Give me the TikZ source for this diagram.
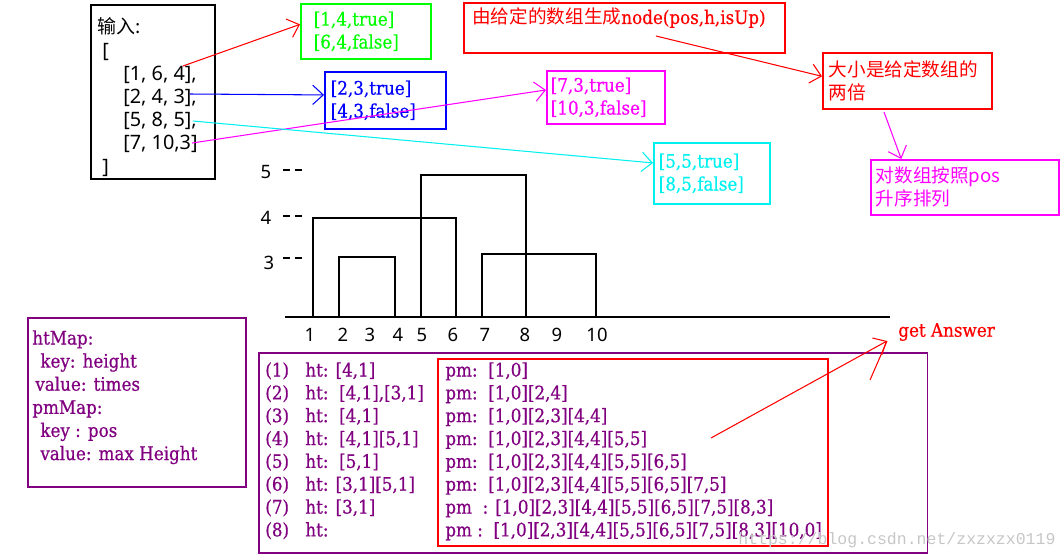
\documentclass[tikz,border=0pt]{standalone}
\usepackage{fontspec}
\setmainfont{DejaVu Serif Condensed}[FakeBold=0.6]
\newfontfamily\cjk{Noto Sans CJK SC}
\newfontfamily\sans{Noto Sans}
\newfontfamily\mono{Liberation Mono}
\usetikzlibrary{positioning,arrows.meta}

\definecolor{pgreen}{RGB}{0,255,0}
\definecolor{pblue}{RGB}{0,0,255}
\definecolor{pmag}{RGB}{255,0,255}
\definecolor{pcyan}{RGB}{0,240,240}
\definecolor{pred}{RGB}{255,0,0}
\definecolor{ppurple}{RGB}{128,0,128}

\newcommand\slabfont{\fontsize{10.6}{13}\selectfont}
\newcommand\hanfont{\cjk\fontsize{10.6}{13}\selectfont}
\newcommand\sansfont{\sans\fontsize{11.3}{13.2}\selectfont}

\tikzset{
  box/.style={draw=#1, text=#1, line width=0.9pt, anchor=north west, align=left, font=\slabfont},
  txt/.style={anchor=north west, align=left, inner sep=0pt, font=\slabfont},
  pen/.style={draw=#1, line width=0.6pt, -{Straight Barb[length=6pt,width=11pt]}},
  axis/.style={font=\sans\fontsize{10.5}{12}\selectfont, inner sep=0pt},
  tick/.style={line width=0.6pt, dash pattern=on 4pt off 2.8pt},
}

\begin{document}
\begin{tikzpicture}[x=0.02cm, y=-0.02cm]
\useasboundingbox (0,0) rectangle (1062,559);

% given buildings
\node[box=black, minimum width=2.48cm, minimum height=3.48cm] (inp) at (90,4) {};
\node[txt, font=\sansfont, below right=0.27cm and 0.14cm of inp.north west] (data)
  {{\cjk\fontsize{10.8}{13.2}\selectfont 输入:}\\ \hspace*{0.1cm}[\\ \hspace*{0.52cm}[1, 6, 4],\\ \hspace*{0.52cm}[2, 4, 3],\\
   \hspace*{0.52cm}[5, 8, 5],\\ \hspace*{0.52cm}[7, 10,3]\\ \hspace*{0.1cm}]};

% nodes (pos,h,isUp)
\node[box=pgreen, minimum width=2.6cm, minimum height=1.1cm, inner xsep=0.26cm, text width=2.08cm] (grn) at (300,3) {[1,4,true]\\{}[6,4,false]};
\node[box=pblue, minimum width=2.42cm, minimum height=1.14cm, inner xsep=0.12cm, text width=2.18cm] (blu) at (324,71) {[2,3,true]\\{}[4,3,false]};
\node[box=pmag, minimum width=2.36cm, minimum height=1.06cm, inner xsep=0.08cm, text width=2.2cm] (mag) at (546,70) {[7,3,true]\\{}[10,3,false]};
\node[box=pcyan, minimum width=2.32cm, minimum height=1.22cm, inner xsep=0.1cm, text width=2.12cm] (cyn) at (653,142) {[5,5,true]\\{}[8,5,false]};

% notes
\node[box=pred, minimum width=6.42cm, minimum height=1.0cm] (gen) at (463,2) {};
\node[txt, text=pred, anchor=west] (gentxt) at ([xshift=0.18cm, yshift=-0.32cm]gen.north west) {{\hanfont 由给定的数组生成}node(pos,h,isUp)};
\node[box=pred, font=\hanfont, minimum width=3.38cm, minimum height=1.12cm, inner xsep=0.12cm, text width=3.14cm] (big2x) at (822,52) {大小是给定数组的\\两倍};
\node[box=pmag, font=\hanfont, minimum width=3.76cm, minimum height=1.1cm, inner xsep=0.1cm, text width=3.56cm] (sortp) at (870,159) {对数组按照pos\\升序排列};

\coordinate (s1) at (183,66);
\coordinate (s2) at (190,94);
\coordinate (s3) at (192,143);
\coordinate (s4) at (193,121);
\coordinate (s5) at (656,36);
\coordinate (s6) at (884,112);
\draw[pen=pred] (s1) -- (grn.174);
\draw[pen=pblue] (s2) -- (blu.175);
\draw[pen=pmag] (s3) -- (mag.173);
\draw[pen=pcyan] (s4) -- (cyn.170);
\draw[pen=pred] (s5) -- (big2x.177);
\draw[pen=pmag] (s6) -- (sortp.156);

% skyline
\draw[line width=0.6pt] (285,317) -- (890,317);
\draw[line width=1.3pt] (313,317) -- (456,317) (482,317) -- (585,317);
\draw[line width=0.7pt] (313,317) rectangle (456,218);
\draw[line width=0.7pt] (339,317) rectangle (395,257);
\draw[line width=0.7pt] (421,317) rectangle (526,175);
\draw[line width=0.7pt] (482,317) rectangle (596,254);
\draw[tick] (283,170) -- (302,170);
\draw[tick] (283,216) -- (302,216);
\draw[tick] (283,258) -- (302,258);
\node[axis] (h5) at (266,172) {5};
\node[axis] (h4) at (266,218) {4};
\node[axis] (h3) at (269,263) {3};
\foreach \x/\t in {310/1, 343/2, 370/3, 398/4, 422/5, 453/6, 485/7, 525/8, 557/9, 597/10}
  \node[axis] at (\x,335) {\t};

% maps
\node[box=ppurple, minimum width=4.36cm, minimum height=3.38cm] (hmap) at (27,317) {};
\node[txt, text=ppurple, font=\fontsize{10.6}{13.15}\selectfont, below right=0.26cm and 0.1cm of hmap.north west] (hmaptxt)
  {htMap:\\ \hspace*{0.16cm}key: height\\ \hspace*{0.06cm}value: times\\ pmMap:\\ \hspace*{0.16cm}key : pos\\ \hspace*{0.16cm}value: max Height};

\node[box=ppurple, minimum width=13.38cm, minimum height=4.0cm] (tbl) at (258,352) {};
\node[box=pred, minimum width=7.8cm, minimum height=3.74cm] (pmb) at (437,358) {};
\node[txt, text=ppurple, below right=0.2cm and 0.14cm of tbl.north west] (nums) {(1)\\(2)\\(3)\\(4)\\(5)\\(6)\\(7)\\(8)};
\node[txt, text=ppurple, below right=0.2cm and 0.94cm of tbl.north west] (hts)
  {ht: [4,1]\\ht:\ \ [4,1],[3,1]\\ht:\ \ [4,1]\\ht:\ \ [4,1][5,1]\\ht:\ \ [5,1]\\ht: [3,1][5,1]\\ht: [3,1]\\ht:};
\node[txt, text=ppurple, below right=0.08cm and 0.16cm of pmb.north west] (pms)
  {pm:\ \ [1,0]\\pm:\ \ [1,0][2,4]\\pm:\ \ [1,0][2,3][4,4]\\pm:\ \ [1,0][2,3][4,4][5,5]\\pm:\ \ [1,0][2,3][4,4][5,5][6,5]\\
   pm:\ \ [1,0][2,3][4,4][5,5][6,5][7,5]\\pm\ \ : [1,0][2,3][4,4][5,5][6,5][7,5][8,3]\\pm :\ \ [1,0][2,3][4,4][5,5][6,5][7,5][8,3][10,0]};

% answer
\node[txt, text=pred, anchor=west] (ans) at (898,332) {get Answer};
\coordinate (s7) at (711,438);
\coordinate (tip) at (887,341);
\coordinate (foot) at (870,380);
\draw[pen=pred] (s7) -- (tip);
\draw[pred, line width=0.6pt] (foot) -- (tip);

\node[anchor=west, inner sep=0pt, text=gray!45, font=\mono\fontsize{9.4}{11}\selectfont] (wm) at (738,540) {https://blog.csdn.net/zxzxzx0119};
\end{tikzpicture}
\end{document}
